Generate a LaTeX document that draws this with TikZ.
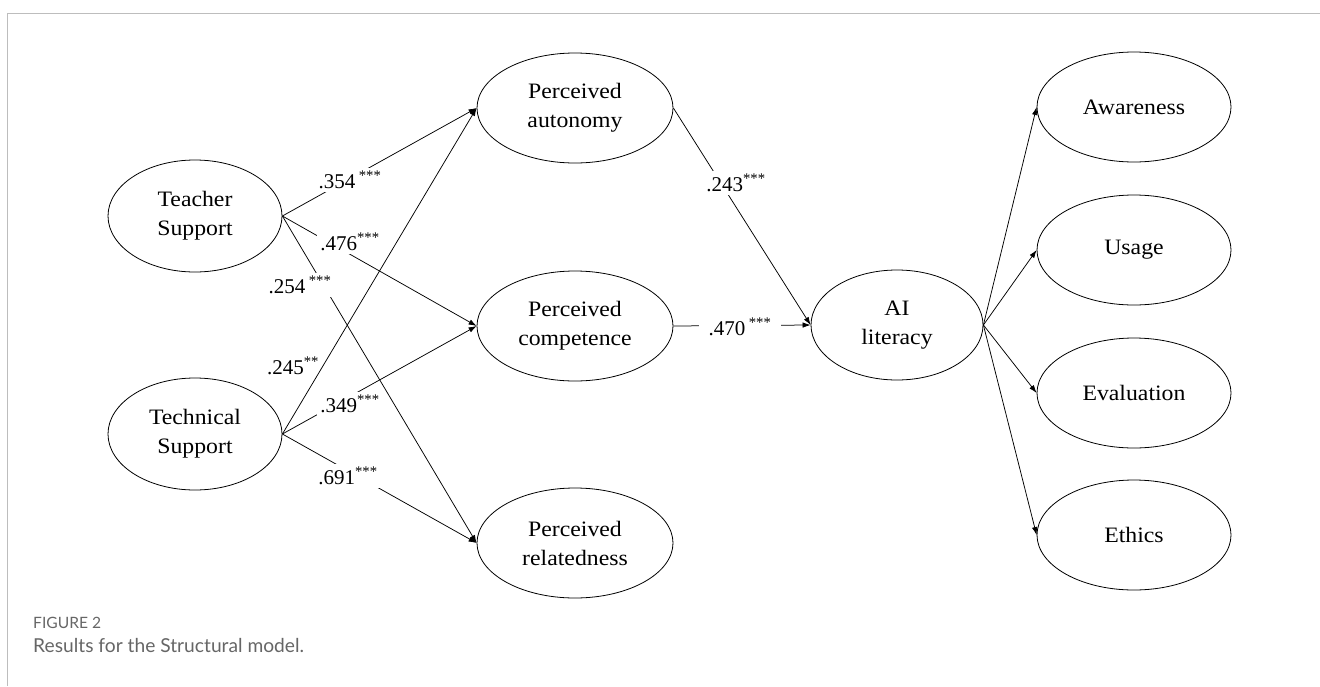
\documentclass[tikz,border=0pt]{standalone}
\usepackage{fontspec}
\setmainfont{Liberation Serif}
\newfontfamily\nodefont{Liberation Serif}[FakeStretch=1.08]
\newfontfamily\capfont{Lato}
\usetikzlibrary{shapes.geometric,arrows.meta}
\definecolor{framegray}{HTML}{BDBDBD}
\definecolor{capgray}{HTML}{666666}
\begin{document}
\begin{tikzpicture}[x=1pt,y=-1pt,
  latent/.style={draw, ellipse, inner sep=0pt, line width=0.8pt, align=center,
    font=\nodefont\fontsize{22}{29}\selectfont, minimum height=110pt},
  arr/.style={-{Latex[length=8pt,width=5.5pt]}, line width=0.75pt},
  coef/.style={fill=white, inner sep=3pt, font=\fontsize{21}{21}\selectfont},
  coefnf/.style={inner sep=1pt, font=\fontsize{21}{21}\selectfont},
  frame/.style={draw=framegray, line width=1pt},
  captext/.style={anchor=base west, inner sep=0pt, text=capgray}
]
\useasboundingbox (0,0) rectangle (1320,686);
\coordinate (fb) at (7,686);
\coordinate (fc) at (7,13);
\coordinate (fr) at (1320,13);
\draw[frame] (fb) -- (fc) -- (fr);

% latent variables
\node[latent, minimum width=174pt, minimum height=112pt] (TS) at (195,216) {Teacher\\Support};
\node[latent, minimum width=174pt, minimum height=112pt] (TE) at (195,434) {Technical\\Support};
\node[latent, minimum width=196pt] (PA) at (575,108) {Perceived\\autonomy};
\node[latent, minimum width=196pt] (PC) at (575,326) {Perceived\\competence};
\node[latent, minimum width=196pt] (PR) at (575,543) {Perceived\\relatedness};
\node[latent, minimum width=172pt] (AI) at (897,325) {AI\\literacy};
\node[latent, minimum width=194pt] (AW) at (1134,107) {Awareness};
\node[latent, minimum width=194pt] (US) at (1134,250) {Usage};
\node[latent, minimum width=194pt] (EV) at (1134,393) {Evaluation};
\node[latent, minimum width=194pt] (ET) at (1134,535) {Ethics};

% paths with gaps from labels
\draw[arr] (TS.east) -- (PA.west);
\draw[arr] (TS.east) -- (PC.west);
\draw[arr] (TS.east) -- (PR.west);
\draw[arr] (TE.east) -- (PC.west);
\draw[arr] (TE.east) -- (PR.west);
\draw[arr] (PA.east) -- (AI.west);
\draw[arr] (PC.east) -- (AI.west);

\node[coef] (c354) at (350,180) {.354\,\textsuperscript{***}};
\node[coef] (c476) at (350,242) {.476\textsuperscript{***}};
\node[coef] (c254) at (300,285) {.254\,\textsuperscript{***}};
\node[coef] (c349) at (350,404) {.349\textsuperscript{***}};
\node[coef] (c691) at (348,476) {.691\textsuperscript{***}};
\node[coef] (c243) at (736,183) {.243\textsuperscript{***}};
\node[coef, inner xsep=10pt] (c470) at (740,327) {.470\,\textsuperscript{***}};

\draw[arr] (TE.east) -- (PA.west);
\node[coefnf] (c245) at (293,366) {.245\textsuperscript{**}};

% indicators
\draw[arr] (AI.east) -- (AW.west);
\draw[arr] (AI.east) -- (US.west);
\draw[arr] (AI.east) -- (EV.west);
\draw[arr] (AI.east) -- (ET.west);

% caption
\node[captext, scale=1.2] (fig) at (33,628) {\capfont\fontsize{13pt}{14pt}\selectfont FIGURE 2};
\node[captext, scale=1.2] (cap) at (33,652) {\capfont\fontsize{16pt}{17pt}\selectfont Results for the Structural model.};
\end{tikzpicture}
\end{document}
